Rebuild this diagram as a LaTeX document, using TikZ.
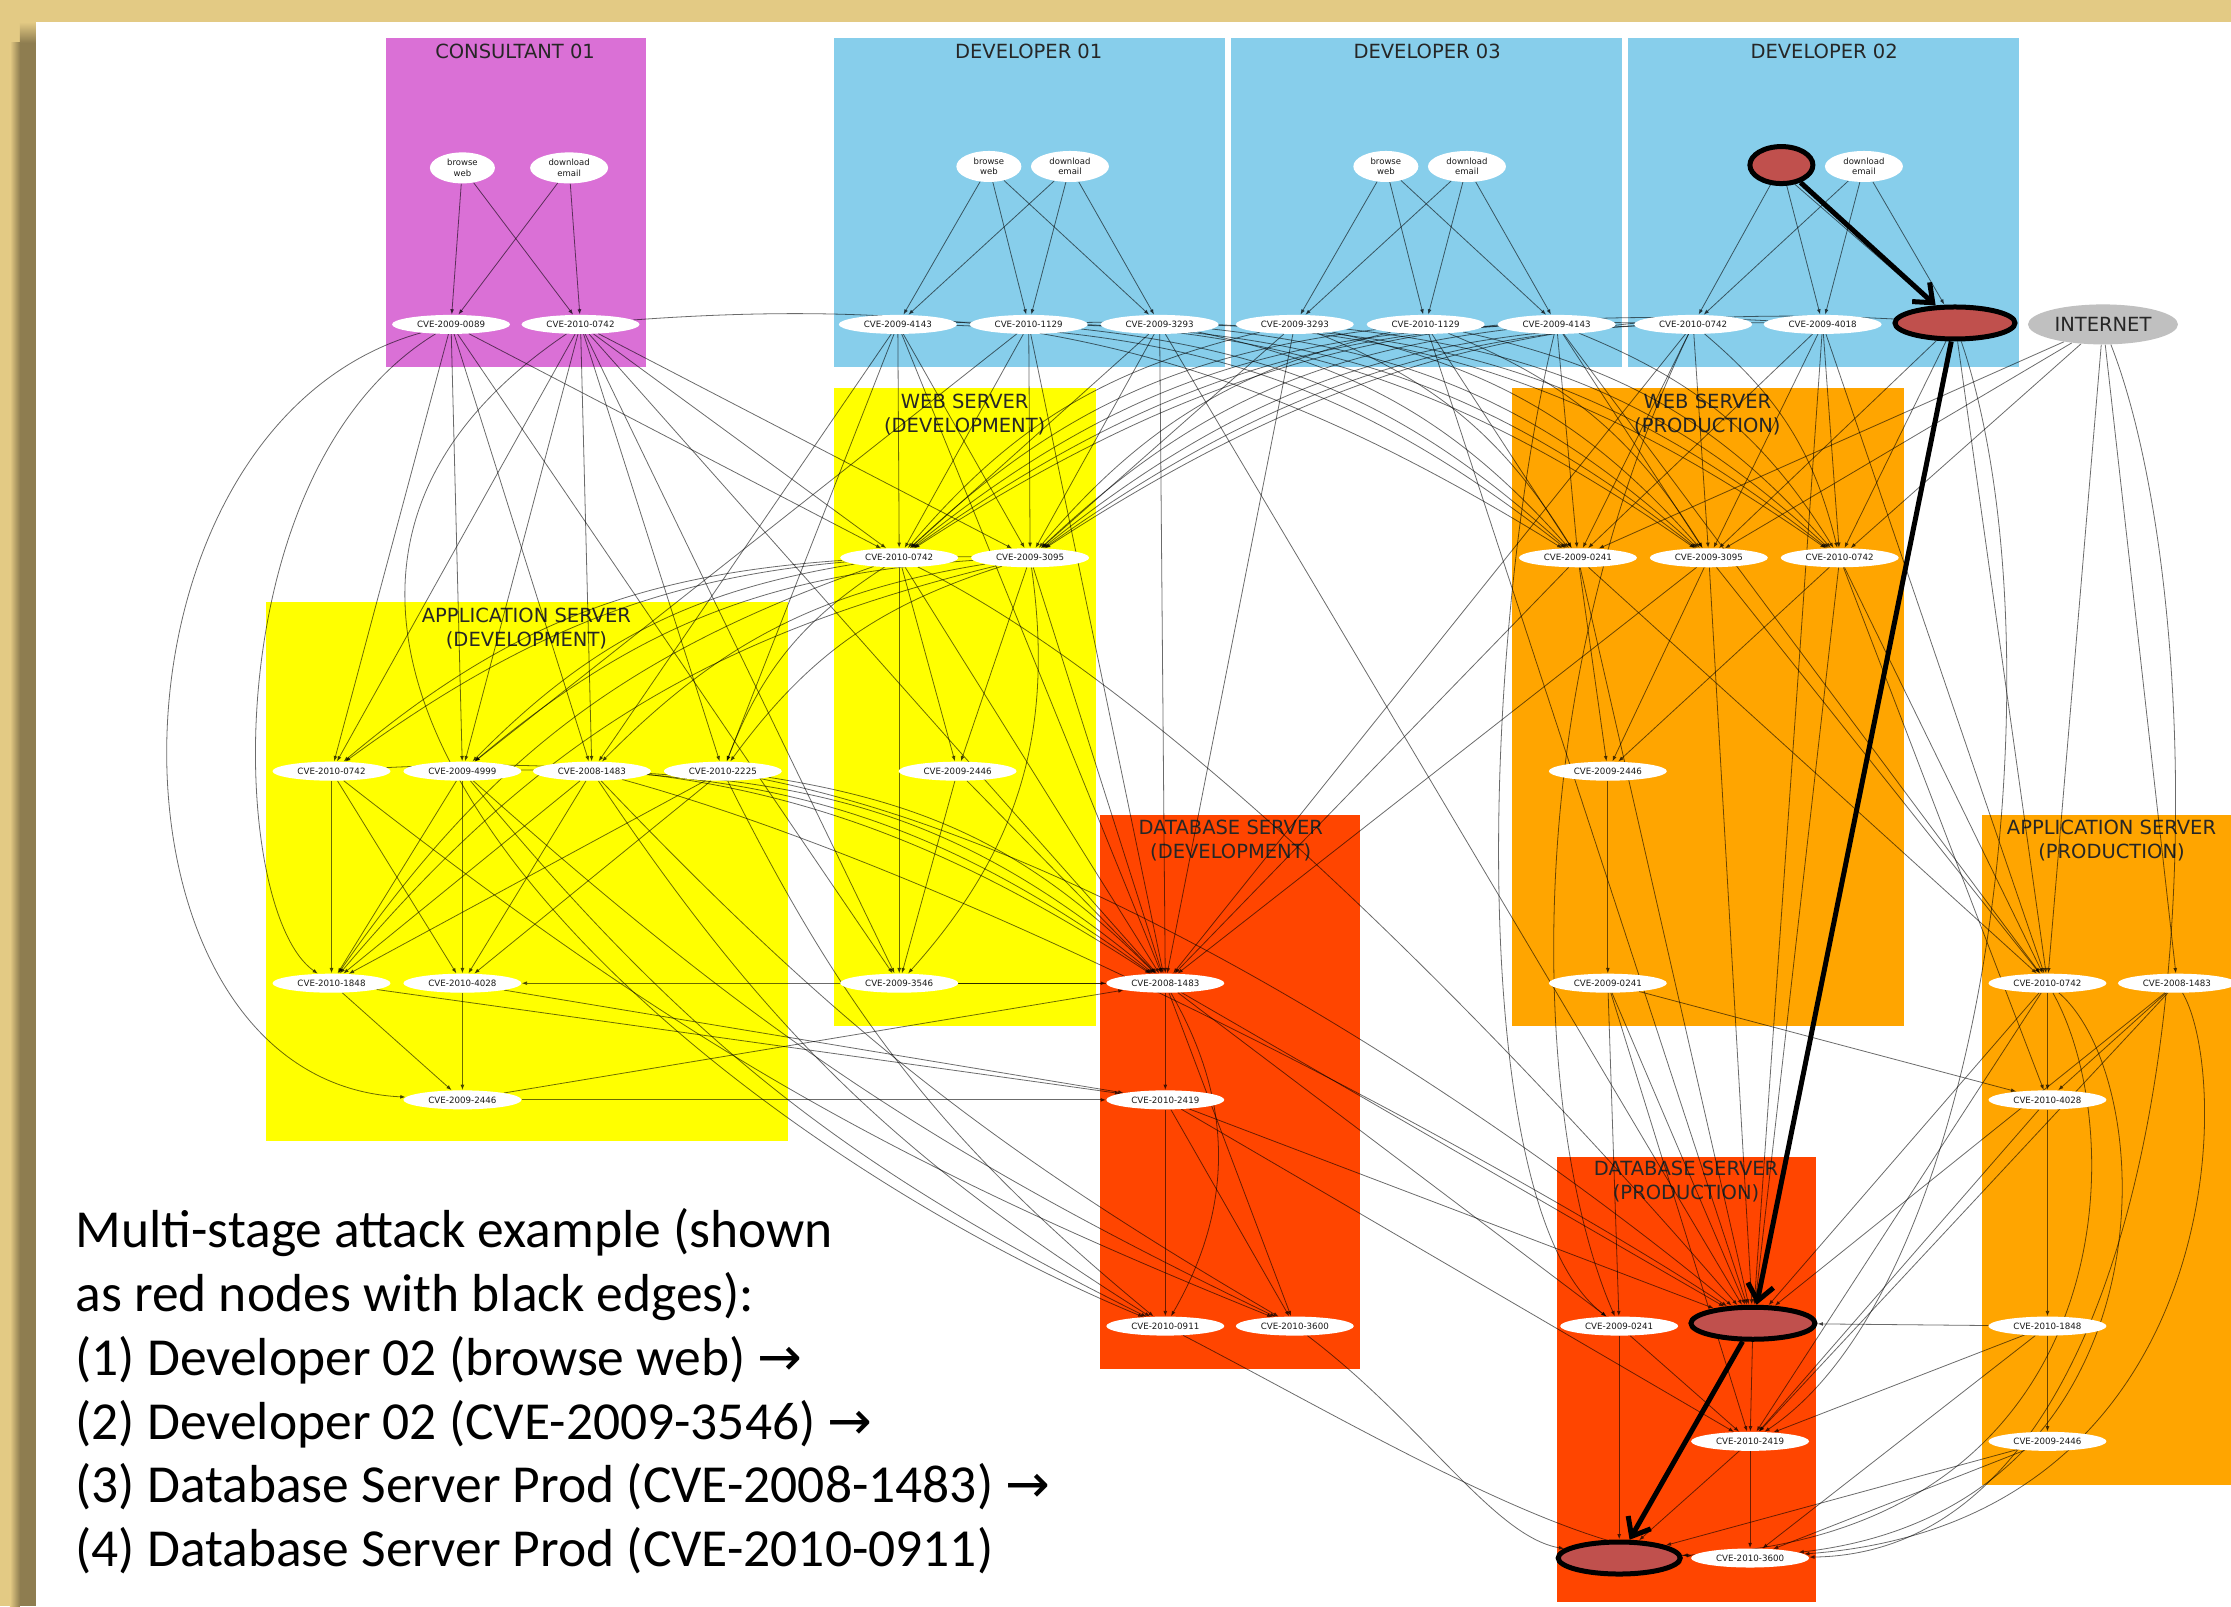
\documentclass[tikz,border=0pt]{standalone}
\usepackage{fontspec}
\setmainfont{DejaVu Sans}
\newfontfamily\carl{Carlito}
\newfontfamily\dvs{DejaVu Sans}
\usetikzlibrary{shapes.geometric,arrows.meta}
\pgfdeclarelayer{bg}
\pgfdeclarelayer{edgelayer}
\pgfdeclarelayer{top}
\pgfsetlayers{bg,edgelayer,main,top}
\definecolor{tanc}{HTML}{E3CA84}
\definecolor{shadc}{HTML}{8E7D50}
\definecolor{orchidc}{HTML}{DA70D6}
\definecolor{skyc}{HTML}{87CEEB}
\definecolor{yelc}{HTML}{FFFF00}
\definecolor{orredc}{HTML}{FF4500}
\definecolor{orangec}{HTML}{FFA500}
\definecolor{inetc}{HTML}{C0C0C0}
\definecolor{attc}{HTML}{C0504D}
\begin{document}
\begin{tikzpicture}[x=1.4228pt,y=-1.4228pt,
  ttl/.style={font=\fontsize{19.5}{24}\selectfont, text=black!85, align=center, inner sep=0pt},
  cve/.style={ellipse, fill=white, minimum width=118pt, minimum height=19pt, inner sep=0pt, font=\fontsize{8.7}{9}\selectfont, text=black!90},
  act/.style={ellipse, fill=white, minimum width=65pt, minimum height=31pt, inner sep=0pt, align=center, font=\fontsize{8.5}{10.5}\selectfont, text=black!90},
  att/.style={ellipse, fill=attc, draw=black, line width=5pt, inner sep=0pt},
  E/.style={draw=black, opacity=0.58, line width=0.8pt, -{Latex[length=5.5pt,width=4pt]}},
  K/.style={draw=black, line width=5pt, -{Straight Barb[length=16pt,width=26pt]}},
  txt/.style={anchor=base west, inner sep=0pt, font=\carl\fontsize{53.5}{64}\selectfont}]
\useasboundingbox (0,0) rectangle (1568,1129);
\begin{pgfonlayer}{bg}
\fill[tanc] (0,0) rectangle (1568,1129);
\fill[white] (25.3,15.5) rectangle (1568,1129);
\shade[left color=tanc, right color=shadc] (7,30) rectangle (14,1129);
\fill[shadc] (14,30) rectangle (25.3,1129);
\shade[top color=tanc, bottom color=shadc] (14,15.5) rectangle (25.3,30);
% clusters
\fill[orchidc] (271,27) rectangle (454,258);
\fill[skyc] (586,27) rectangle (861,258);
\fill[skyc] (865,27) rectangle (1140,258);
\fill[skyc] (1144,27) rectangle (1419,258);
\fill[yelc] (586,273) rectangle (770,721);
\fill[yelc] (187,423) rectangle (554,802);
\fill[orredc] (773,573) rectangle (956,962);
\fill[orangec] (1063,273) rectangle (1338,721);
\fill[orangec] (1393,573) rectangle (1575,1044);
\fill[orredc] (1094,813) rectangle (1276,1126);
\node[ttl] (tc) at (362,36) {CONSULTANT 01};
\node[ttl] (td1) at (723,36) {DEVELOPER 01};
\node[ttl] (td3) at (1003,36) {DEVELOPER 03};
\node[ttl] (td2) at (1282,36) {DEVELOPER 02};
\node[ttl] (twd) at (678,291.5) {WEB SERVER\\(DEVELOPMENT)};
\node[ttl] (tad) at (370,441.5) {APPLICATION SERVER\\(DEVELOPMENT)};
\node[ttl] (tdd) at (865,590.5) {DATABASE SERVER\\(DEVELOPMENT)};
\node[ttl] (twp) at (1200,291.5) {WEB SERVER\\(PRODUCTION)};
\node[ttl] (tap) at (1484,590.5) {APPLICATION SERVER\\(PRODUCTION)};
\node[ttl] (tdp) at (1185,830.5) {DATABASE SERVER\\(PRODUCTION)};
\end{pgfonlayer}
% nodes
\node[act] (cbw) at (325,118) {browse\\web};
\node[act, minimum width=78pt] (cde) at (400,118) {download\\email};
\node[cve] (c0089) at (317,228) {CVE-2009-0089};
\node[cve] (c0742) at (408,228) {CVE-2010-0742};
\node[act] (d1bw) at (695,117) {browse\\web};
\node[act, minimum width=78pt] (d1de) at (752,117) {download\\email};
\node[cve] (d1a) at (631,228) {CVE-2009-4143};
\node[cve] (d1b) at (723,228) {CVE-2010-1129};
\node[cve] (d1c) at (815,228) {CVE-2009-3293};
\node[act] (d3bw) at (974,117) {browse\\web};
\node[act, minimum width=78pt] (d3de) at (1031,117) {download\\email};
\node[cve] (d3a) at (910,228) {CVE-2009-3293};
\node[cve] (d3b) at (1002,228) {CVE-2010-1129};
\node[cve] (d3c) at (1094,228) {CVE-2009-4143};
\node[att, minimum width=63pt, minimum height=37pt] (d2bw) at (1252,116) {};
\node[act, minimum width=78pt] (d2de) at (1310,117) {download\\email};
\node[cve] (d2a) at (1190,228) {CVE-2010-0742};
\node[cve] (d2b) at (1281,228) {CVE-2009-4018};
\node[att, minimum width=120pt, minimum height=32pt] (d2c) at (1374,227) {};
\node[ellipse, fill=inetc, minimum width=150pt, minimum height=40pt, inner sep=0pt, font=\fontsize{19.5}{22}\selectfont, text=black!85] (inet) at (1478,228) {INTERNET};
\node[cve] (wd0742) at (632,392) {CVE-2010-0742};
\node[cve] (wd3095) at (724,392) {CVE-2009-3095};
\node[cve] (wd2446) at (673,542) {CVE-2009-2446};
\node[cve] (wd3546) at (632,691) {CVE-2009-3546};
\node[cve] (ad0742) at (233,542) {CVE-2010-0742};
\node[cve] (ad4999) at (325,542) {CVE-2009-4999};
\node[cve] (ad1483) at (416,542) {CVE-2008-1483};
\node[cve] (ad2225) at (508,542) {CVE-2010-2225};
\node[cve] (ad1848) at (233,691) {CVE-2010-1848};
\node[cve] (ad4028) at (325,691) {CVE-2010-4028};
\node[cve] (ad2446) at (325,773) {CVE-2009-2446};
\node[cve] (dd1483) at (819,691) {CVE-2008-1483};
\node[cve] (dd2419) at (819,773) {CVE-2010-2419};
\node[cve] (dd0911) at (819,932) {CVE-2010-0911};
\node[cve] (dd3600) at (910,932) {CVE-2010-3600};
\node[cve] (wp0241) at (1109,392) {CVE-2009-0241};
\node[cve] (wp3095) at (1201,392) {CVE-2009-3095};
\node[cve] (wp0742) at (1293,392) {CVE-2010-0742};
\node[cve] (wp2446) at (1130,542) {CVE-2009-2446};
\node[cve] (wp0241b) at (1130,691) {CVE-2009-0241};
\node[cve] (ap0742) at (1439,691) {CVE-2010-0742};
\node[cve] (ap1483) at (1530,691) {CVE-2008-1483};
\node[cve] (ap4028) at (1439,773) {CVE-2010-4028};
\node[cve] (ap1848) at (1439,932) {CVE-2010-1848};
\node[cve] (ap2446) at (1439,1013) {CVE-2009-2446};
\node[cve] (dp0241) at (1138,932) {CVE-2009-0241};
\node[att, minimum width=124pt, minimum height=32pt] (dp1483) at (1232,930) {};
\node[cve] (dp2419) at (1230,1013) {CVE-2010-2419};
\node[att, minimum width=122pt, minimum height=32pt] (dp0911) at (1138,1095) {};
\node[cve] (dp3600) at (1230,1095) {CVE-2010-3600};
% text
\node[txt] (t1) at (53,877) {Multi-stage attack example (shown};
\node[txt] (t2) at (53,921.8) {as red nodes with black edges):};
\node[txt] (t3) at (53,966.6) {(1) Developer 02 (browse web) {\dvs →}};
\node[txt] (t4) at (53,1011.4) {(2) Developer 02 (CVE-2009-3546) {\dvs →}};
\node[txt] (t5) at (53,1056.2) {(3) Database Server Prod (CVE-2008-1483) {\dvs →}};
\node[txt] (t6) at (53,1101) {(4) Database Server Prod (CVE-2010-0911)};
% edges
\begin{pgfonlayer}{edgelayer}
\foreach \a/\b in {cbw/c0089,cde/c0089,cbw/c0742,cde/c0742,
 d1bw/d1a,d1bw/d1b,d1bw/d1c,d1de/d1a,d1de/d1b,d1de/d1c,
 d3bw/d3a,d3bw/d3b,d3bw/d3c,d3de/d3a,d3de/d3b,d3de/d3c,
 d2bw/d2a,d2bw/d2b,d2de/d2a,d2de/d2b,d2de/d2c}
 \draw[E] (\a) -- (\b);
\draw[E] (d2bw.-55) -- (d2c.140);
\foreach \a/\b in {c0089/ad0742,c0089/ad4999,c0089/ad1483,c0089/wd0742,c0089/wd3546,
 c0742/ad0742,c0742/ad4999,c0742/ad1483,c0742/ad2225,c0742/wd0742,c0742/wd3095,c0742/wd3546,c0742/dd1483,
 d1a/wd0742,d1a/ad2225,d1a/ad1483,d1a/dd1483,d1a/wd3095,
 d1b/wd0742,d1b/wd3095,d1b/dd1483,d1b/ad4999,
 d1c/wd0742,d1c/wd3095,d1c/dd1483,d1c/dp1483,
 d3a/wd3095,d3a/dd1483,
 d3b/dp1483,d3b/wp0241,
 d3c/wp0241,d3c/wp3095,d3c/ap0742,
 d2a/wp0241,d2a/wp3095,d2a/dd1483,
 d2b/wp0241,d2b/wp3095,d2b/wp0742,d2b/dp1483,d2b/ap0742,
 d2c/wp3095,d2c/wp0742,d2c/ap0742,
 inet/wp0742,inet/ap0742,inet/ap1483,inet/wp3095,inet/wp0241}
 \draw[E] (\a) -- (\b);
\foreach \a/\b in {d3a/wd0742,d3b/wd0742,d3c/wd0742,d2a/wd0742,d2b/wd0742,
 d3b/wd3095,d3c/wd3095,d2a/wd3095,d2b/wd3095,d2c/wd3095,
 wd0742/ad0742,wd0742/ad4999,wd3095/ad0742,wd3095/ad4999,wd3095/ad1483,
 wd0742/ad2225,wd3095/ad2225,wd0742/ad1848,wd3095/ad1848}
 \draw[E] (\a) to[bend right=18] (\b);
\foreach \a/\b in {d1a/wp0241,d1b/wp0241,d1c/wp0241,d3a/wp0241,
 d1a/wp3095,d1b/wp3095,d1c/wp3095,d3a/wp3095,d3b/wp3095,
 d1b/wp0742,d1c/wp0742,d3a/wp0742,d3b/wp0742,d3c/wp0742,d2a/wp0742,c0742/wp0241,
 ad0742/dd1483,ad4999/dd1483,ad1483/dd1483,ad2225/dd1483}
 \draw[E] (\a) to[bend left=18] (\b);
\foreach \a/\b in {wd0742/wd2446,wd0742/wd3546,wd3095/wd2446,wd2446/wd3546,
 wd0742/dd1483,wd3095/dd1483,wd3546/dd1483,wd2446/dd1483,dd1483/ad4028,
 ad0742/ad1848,ad0742/ad4028,ad4999/ad1848,ad4999/ad4028,ad1483/ad1848,ad1483/ad4028,
 ad2225/ad1848,ad2225/ad4028,ad1848/ad2446,ad4028/ad2446,
 ad2446/dd2419,ad4028/dd2419,ad1848/dd2419,ad2446/dd1483,
 dd1483/dd2419,dd2419/dd0911,dd1483/dd3600,dd2419/dd3600,
 dd1483/dp0241,dd1483/dp1483,dd2419/dp1483,dd2419/dp2419,
 wp0241/wp2446,wp3095/wp2446,wp0742/wp2446,wp2446/wp0241b,
 wp0241/dp1483,wp3095/dp1483,wp0742/dp1483,wp0241/ap0742,wp3095/ap0742,wp0742/ap0742,wp0742/ap4028,
 wp0241b/dp0241,wp0241b/dp1483,wp0241b/dp2419,wp0241b/ap4028,
 wp0241/dd1483,wp3095/dd1483,
 ap0742/ap4028,ap1483/ap4028,ap4028/ap1848,ap1848/ap2446,
 ap0742/dp1483,ap1483/dp1483,ap0742/dp2419,ap1483/dp2419,ap1848/dp1483,ap1848/dp2419,
 ap1848/dp3600,ap4028/dp2419,ap2446/dp3600,ap2446/dp0911,
 dp0241/dp2419,dp0241/dp0911,dp1483/dp2419,dp2419/dp3600,dp2419/dp0911}
 \draw[E] (\a) -- (\b);
\draw[E] (wd3095) to[bend left=25] (wd3546);
\draw[E] (dd1483) to[bend left=30] (dd0911);
\foreach \a in {ad0742,ad4999,ad1483}
 \draw[E] (\a) to[bend right=8] (dd3600);
\foreach \a in {ad4999,ad1483,ad2225}
 \draw[E] (\a) to[bend right=12] (dd0911);
\draw[E] (dd0911) .. controls (950,1000) and (1100,1090) .. (dp3600);
\draw[E] (dd3600) .. controls (1000,1000) and (1050,1080) .. (dp0911);
\draw[E] (ad2225) .. controls (800,600) and (1100,820) .. (dp1483);
\draw[E] (ad1483) .. controls (700,620) and (1080,830) .. (dp1483);
\draw[E] (wd0742) .. controls (850,500) and (1120,800) .. (dp1483);
\draw[E] (c0089) .. controls (60,300) and (60,760) .. (ad2446);
\draw[E] (c0089) .. controls (150,330) and (160,640) .. (ad1848);
\draw[E] (c0742) .. controls (80,450) and (500,800) .. (dd0911);
\draw[E] (inet) .. controls (1565,450) and (1560,1090) .. (dp3600);
\draw[E] (d2c) .. controls (1450,450) and (1400,900) .. (dp2419);
\draw[E] (d3c) .. controls (1040,450) and (1030,850) .. (dp0241);
\draw[E] (d2a) .. controls (1060,500) and (1080,800) .. (dp0241);
\draw[E] (ap0742) .. controls (1520,760) and (1530,1060) .. (dp3600);
\draw[E] (ap1483) .. controls (1570,760) and (1565,1070) .. (dp3600);
\draw[E] (ap0742) .. controls (1500,800) and (1490,1080) .. (dp0911);
\end{pgfonlayer}
\begin{pgfonlayer}{top}
\draw[K] (d2bw) -- (d2c);
\draw[K] (d2c) -- (dp1483);
\draw[K] (dp1483) -- (dp0911);
\end{pgfonlayer}
\end{tikzpicture}
\end{document}
